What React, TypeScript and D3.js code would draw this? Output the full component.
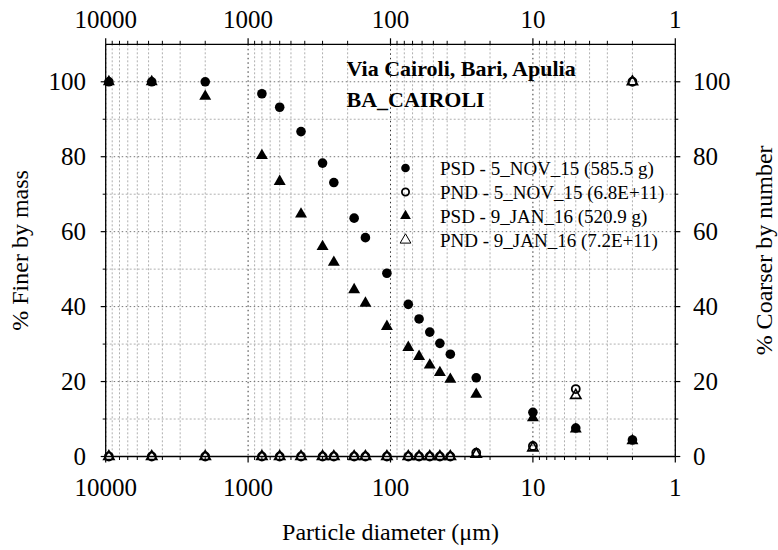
import React from "react";
import * as d3 from "d3";

const sizes = [9500, 4750, 2000, 800, 600, 425, 300, 250, 180, 150, 106, 75, 63, 53, 45, 38, 25, 10, 5, 2];
const psdNov = [100, 100, 100, 96.8, 93.2, 86.7, 78.3, 73.1, 63.6, 58.4, 48.9, 40.6, 36.7, 33.2, 30.2, 27.3, 21.0, 11.8, 7.6, 4.4];
const pndNov = [0, 0, 0, 0, 0, 0, 0, 0, 0, 0, 0, 0, 0, 0, 0, 0, 1.0, 2.8, 18.0, 100];
const psdJan = [100, 100, 96.1, 80.3, 73.4, 64.7, 56.0, 51.8, 44.5, 40.9, 34.7, 29.1, 26.7, 24.4, 22.4, 20.6, 16.6, 10.3, 7.3, 4.2];
const pndJan = [0, 0, 0, 0, 0, 0, 0, 0, 0, 0, 0, 0, 0, 0, 0, 0, 0.6, 2.3, 16.3, 100];

const xTicks = [10000, 1000, 100, 10, 1];
const xTickLabels = ["10000", "1000", "100", "10", "1"];
const yTicks = [0, 20, 40, 60, 80, 100];
const yMinorTicks = [10, 30, 50, 70, 90];

const legendLabels = [
  "PSD - 5_NOV_15 (585.5 g)",
  "PND - 5_NOV_15 (6.8E+11)",
  "PSD - 9_JAN_16 (520.9 g)",
  "PND - 9_JAN_16 (7.2E+11)",
];
const titleLines = ["Via Cairoli, Bari, Apulia", "BA_CAIROLI"];

const W = 778, H = 550;
const L = 105.7, R = 675.3, T = 44.3, B = 456.5;
const FONT = "'Liberation Serif', 'Times New Roman', serif";

export default function App() {
  const x = d3.scaleLog().domain([10000, 1]).range([L, R]);
  const y = d3.scaleLinear().domain([0, 110]).range([B, T]);

  const minorX: number[] = [];
  for (let e = 0; e < 4; e++) {
    for (let m = 2; m <= 9; m++) minorX.push(m * Math.pow(10, e));
  }

  const tri = d3.symbol().type(d3.symbolTriangle).size(62)() as string;
  const triOpen = d3.symbol().type(d3.symbolTriangle).size(46)() as string;
  const triLeg = d3.symbol().type(d3.symbolTriangle).size(50)() as string;

  const series = [
    { vals: psdNov, kind: "circle", filled: true },
    { vals: pndNov, kind: "circle", filled: false },
    { vals: psdJan, kind: "tri", filled: true },
    { vals: pndJan, kind: "tri", filled: false },
  ];

  const marker = (kind: string, filled: boolean, cx: number, cy: number, key: string, legend = false) => {
    if (kind === "circle") {
      return (
        <circle key={key} cx={cx} cy={cy} r={legend ? (filled ? 4.3 : 3.6) : (filled ? 4.8 : 4.0)}
          fill={filled ? "#000" : "none"} stroke="#000" strokeWidth={filled ? 0 : 1.8} />
      );
    }
    return (
      <path key={key} d={legend ? triLeg : (filled ? tri : triOpen)} transform={`translate(${cx},${cy})`}
        fill={filled ? "#000" : (legend ? "#fff" : "none")} stroke="#000" strokeWidth={filled ? 0 : (legend ? 1 : 1.6)} />
    );
  };

  return (
    <svg width={W} height={H} style={{ position: "absolute", left: 0, top: 0, background: "#fff" }}
      fontFamily={FONT}>
      <rect x={0} y={0} width={W} height={H} fill="#fff" />
      {minorX.map((v, i) => (
        <line key={"mx" + i} x1={x(v)} x2={x(v)} y1={T} y2={B} stroke="#b0b0b0" strokeWidth={1} strokeDasharray="2,2" />
      ))}
      {yMinorTicks.map((v, i) => (
        <line key={"my" + i} x1={L} x2={R} y1={y(v)} y2={y(v)} stroke="#b0b0b0" strokeWidth={1} strokeDasharray="2,2" />
      ))}
      {yTicks.map((v, i) => (
        <line key={"gy" + i} x1={L} x2={R} y1={y(v)} y2={y(v)} stroke="#777" strokeWidth={1} strokeDasharray="1.5,2.5" />
      ))}
      {xTicks.map((v, i) => (
        <line key={"gx" + i} x1={x(v)} x2={x(v)} y1={T} y2={B} stroke="#333" strokeWidth={1} strokeDasharray="1.5,3" />
      ))}

      <line x1={L} x2={R} y1={T} y2={T} stroke="#000" strokeWidth={1.3} />
      <line x1={L} x2={R} y1={B} y2={B} stroke="#000" strokeWidth={1.3} />
      <line x1={L} x2={L} y1={T} y2={B} stroke="#000" strokeWidth={1.3} />
      <line x1={R} x2={R} y1={T} y2={B} stroke="#000" strokeWidth={1.3} />

      {xTicks.map((v, i) => (
        <g key={"xt" + i}>
          <line x1={x(v)} x2={x(v)} y1={T} y2={T - 6} stroke="#000" strokeWidth={1.2} />
          <line x1={x(v)} x2={x(v)} y1={B} y2={B + 6} stroke="#000" strokeWidth={1.2} />
          <text x={x(v)} y={28} textAnchor="middle" fontSize={25}>{xTickLabels[i]}</text>
          <text x={x(v)} y={496} textAnchor="middle" fontSize={25}>{xTickLabels[i]}</text>
        </g>
      ))}
      {minorX.map((v, i) => (
        <g key={"xmt" + i}>
          <line x1={x(v)} x2={x(v)} y1={T} y2={T - 3.5} stroke="#000" strokeWidth={1} />
          <line x1={x(v)} x2={x(v)} y1={B} y2={B + 3.5} stroke="#000" strokeWidth={1} />
        </g>
      ))}

      {yTicks.map((v, i) => (
        <g key={"yt" + i}>
          <line x1={L} x2={L - 5} y1={y(v)} y2={y(v)} stroke="#000" strokeWidth={1.2} />
          <line x1={R} x2={R + 5} y1={y(v)} y2={y(v)} stroke="#000" strokeWidth={1.2} />
          <text x={86} y={y(v) + 8.5} textAnchor="end" fontSize={25}>{v}</text>
          <text x={693} y={y(v) + 8.5} textAnchor="start" fontSize={25}>{v}</text>
        </g>
      ))}
      {yMinorTicks.map((v, i) => (
        <g key={"ymt" + i}>
          <line x1={L} x2={L - 3} y1={y(v)} y2={y(v)} stroke="#000" strokeWidth={1} />
          <line x1={R} x2={R + 3} y1={y(v)} y2={y(v)} stroke="#000" strokeWidth={1} />
        </g>
      ))}

      <text transform={`translate(28,${(T + B) / 2}) rotate(-90)`} textAnchor="middle" fontSize={24}>% Finer by mass</text>
      <text transform={`translate(772,${(T + B) / 2}) rotate(-90)`} textAnchor="middle" fontSize={24}>% Coarser by number</text>
      <text x={(L + R) / 2} y={540} textAnchor="middle" fontSize={24}>Particle diameter (μm)</text>

      <text x={346.5} y={76} fontSize={22} fontWeight="bold">{titleLines[0]}</text>
      <text x={346.5} y={107} fontSize={22} fontWeight="bold">{titleLines[1]}</text>

      {series.map((s, si) => (
        <g key={"s" + si}>
          {s.vals.map((v, i) => marker(s.kind, s.filled, x(sizes[i]), y(v), `p${si}-${i}`))}
        </g>
      ))}

      {series.map((s, si) => (
        <g key={"lg" + si}>
          {marker(s.kind, s.filled, 405.5, 168 + si * 24, "lm" + si, true)}
          <text x={440} y={168 + si * 24 + 6.5} fontSize={19}>{legendLabels[si]}</text>
        </g>
      ))}
    </svg>
  );
}
